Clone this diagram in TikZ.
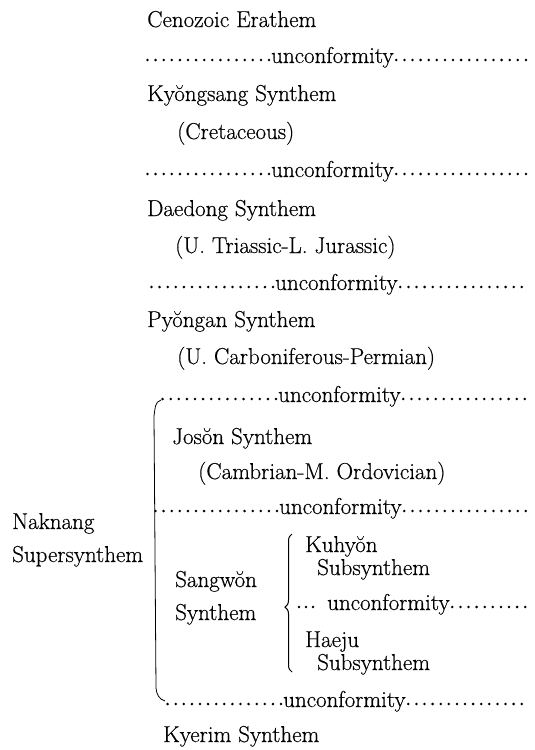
\documentclass[tikz,border=0pt]{standalone}
\usepackage{fontspec}
\setmainfont{Latin Modern Roman}[BoldFont={Latin Modern Roman}, BoldFeatures={FakeBold=0.45}]
\usetikzlibrary{decorations.pathreplacing}
\begin{document}
\begin{tikzpicture}[x=1pt,y=-1pt,
  txt/.style={anchor=base west, inner sep=0pt, font=\fontsize{23}{27}\selectfont\bfseries},
  dotline/.style={line width=2.8pt, line cap=round, dash pattern=on 0pt off 8.1pt},
  bracketline/.style={line width=0.8pt},
  bracestyle/.style={line width=1pt, decorate, decoration={brace, amplitude=7pt, aspect=0.47}}]
\useasboundingbox (0,0) rectangle (535,750);

% main column
\node[txt] (cen) at (147,27) {Cenozoic Erathem};
\node[txt] (u1) at (271,63) {unconformity};
\node[txt] (kyo) at (147,101) {Kyŏngsang Synthem};
\node[txt] (cre) at (177,139) {(Cretaceous)};
\node[txt] (u2) at (271,177) {unconformity};
\node[txt] (dae) at (147,216) {Daedong Synthem};
\node[txt] (tri) at (175,253) {(U. Triassic-L. Jurassic)};
\node[txt] (u3) at (275,290) {unconformity};
\node[txt] (pyo) at (147,327) {Pyŏngan Synthem};
\node[txt] (car) at (177,364) {(U. Carboniferous-Permian)};
\node[txt] (u4) at (278,402) {unconformity};
\node[txt] (jos) at (172,444) {Josŏn Synthem};
\node[txt] (cam) at (198,479) {(Cambrian-M. Ordovician)};
\node[txt] (u5) at (279,514) {unconformity};
\node[txt] (nak) at (12,529) {Naknang};
\node[txt] (sup) at (12,562) {Supersynthem};
\node[txt] (sg1) at (175,587) {Sangwŏn};
\node[txt] (sg2) at (175,620) {Synthem};
\node[txt] (kuh) at (305,552) {Kuhyŏn};
\node[txt] (ks) at (317,575) {Subsynthem};
\node[txt] (um) at (327,610) {unconformity};
\node[txt] (hae) at (305,647) {Haeju};
\node[txt] (hs) at (317,670) {Subsynthem};
\node[txt] (u6) at (283,707) {unconformity};
\node[txt] (kye) at (163,742) {Kyerim Synthem};

% dotted line end points (left lengths are whole multiples of the dot step)
\coordinate (u1l) at (147.5,60); \coordinate (u1r) at (527,60);
\coordinate (u2l) at (147.5,174); \coordinate (u2r) at (527,174);
\coordinate (u3l) at (151.5,287); \coordinate (u3r) at (527,287);
\coordinate (u4l) at (162.6,399); \coordinate (u4r) at (529,399);
\coordinate (u5l) at (155.5,511); \coordinate (u5r) at (529,511);
\coordinate (u6l) at (167.6,704); \coordinate (u6r) at (529,704);

\foreach \u in {u1,u2,u3,u4,u5,u6}{
  \draw[dotline] (\u l) -- ([xshift=-2pt,yshift=3pt]\u.base west);
  \draw[dotline] ([xshift=2.5pt,yshift=3pt]\u.base east) -- (\u r);
}
\coordinate (uml) at (299,607); \coordinate (umr) at (529,607);
\draw[dotline, dash pattern=on 0pt off 7pt] (uml) -- ([xshift=-14pt,yshift=3pt]um.base west);
\draw[dotline] ([xshift=2.5pt,yshift=3pt]um.base east) -- (umr);

% bracket of the supersynthem
\coordinate (bt) at (161,400);
\coordinate (bt2) at (154,416);
\coordinate (bb2) at (156,688);
\coordinate (bb) at (165,701);
\draw[bracketline] (bt) to[out=195,in=80] (bt2) -- (bb2) to[out=-85,in=165] (bb);

% brace of Sangwon synthem
\coordinate (brb) at (292,672);
\coordinate (brt) at (292,534);
\draw[bracestyle] (brb) -- (brt);
\end{tikzpicture}
\end{document}
